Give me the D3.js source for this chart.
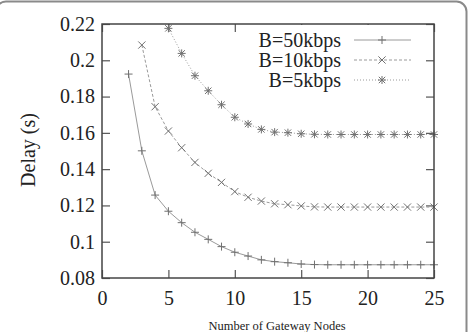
<!DOCTYPE html>
<html>
<head>
<meta charset="utf-8">
<script src="https://cdn.jsdelivr.net/npm/d3@7"></script>
<style>
html,body{margin:0;padding:0;background:#fff;}
svg{display:block;}
text{font-family:"Liberation Serif","Times New Roman",serif;fill:#222;}
</style>
</head>
<body>
<svg id="chart" width="474" height="332"></svg>
<script>
// ---- data ----
const xTicks = [0, 5, 10, 15, 20, 25];
const yTicks = [0.08, 0.1, 0.12, 0.14, 0.16, 0.18, 0.2, 0.22];
const yTickLabels = ["0.08", "0.1", "0.12", "0.14", "0.16", "0.18", "0.2", "0.22"];
const seriesNames = ["B=50kbps", "B=10kbps", "B=5kbps"];
const nodes50 = [2,3,4,5,6,7,8,9,10,11,12,13,14,15,16,17,18,19,20,21,22,23,24,25];
const delay50 = [0.1924,0.1501,0.1257,0.1168,0.1105,0.1052,0.1013,0.0973,0.0942,0.0921,0.0900,0.0890,0.0884,0.0877,0.0874,0.0873,0.0873,0.0873,0.0873,0.0873,0.0873,0.0873,0.0873,0.0873];
const nodes10 = [3,4,5,6,7,8,9,10,11,12,13,14,15,16,17,18,19,20,21,22,23,24,25];
const delay10 = [0.2084,0.1744,0.1610,0.1518,0.1437,0.1377,0.1327,0.1276,0.1245,0.1224,0.1209,0.1204,0.1197,0.1192,0.1191,0.1191,0.1191,0.1191,0.1191,0.1191,0.1191,0.1191,0.1191];
const nodes5 = [5,6,7,8,9,10,11,12,13,14,15,16,17,18,19,20,21,22,23,24,25];
const delay5 = [0.2176,0.2038,0.1915,0.1832,0.1755,0.1686,0.1649,0.1619,0.1604,0.1601,0.1595,0.1592,0.1591,0.1591,0.1591,0.1591,0.1591,0.1591,0.1591,0.1591,0.1591];
const xLabel = "Number of Gateway Nodes";
const yLabel = "Delay (s)";

const series = [
  {name: seriesNames[0], xs: nodes50, ys: delay50, dash: null, marker: "plus"},
  {name: seriesNames[1], xs: nodes10, ys: delay10, dash: "3,2", marker: "cross"},
  {name: seriesNames[2], xs: nodes5, ys: delay5, dash: "1,2", marker: "star"}
];

const svg = d3.select("#chart");

// outer rounded frame
svg.append("rect").attr("x", -4).attr("y", 1.5).attr("width", 470.5).attr("height", 360)
  .attr("rx", 10).attr("fill", "none").attr("stroke", "#8a8a8a").attr("stroke-width", 2);

const L = 102, R = 434, T = 24, B = 278;
const x = d3.scaleLinear().domain([0, 25]).range([L, R]);
const y = d3.scaleLinear().domain([0.08, 0.22]).range([B, T]);

const fmtY = v => yTickLabels[yTicks.indexOf(v)];

function styleAxis(g) {
  g.attr("font-family", null).attr("font-size", null);
  g.select(".domain").remove();
  g.selectAll(".tick line").attr("stroke", "#555").attr("stroke-width", 1.2);
  g.selectAll(".tick text").style("font-family", '"Liberation Serif","Times New Roman",serif').style("font-size", "20px").attr("fill", "#222");
}

svg.append("g").attr("transform", `translate(0,${B})`)
  .call(d3.axisBottom(x).tickValues(xTicks).tickSize(-8).tickSizeOuter(0).tickPadding(13))
  .call(styleAxis);
svg.append("g").attr("transform", `translate(${L},0)`)
  .call(d3.axisLeft(y).tickValues(yTicks).tickFormat(fmtY).tickSize(-8).tickSizeOuter(0).tickPadding(7))
  .call(styleAxis);
svg.append("g").attr("transform", `translate(0,${T})`)
  .call(d3.axisTop(x).tickValues(xTicks).tickFormat("").tickSize(-8).tickSizeOuter(0))
  .call(styleAxis);
svg.append("g").attr("transform", `translate(${R},0)`)
  .call(d3.axisRight(y).tickValues(yTicks).tickFormat("").tickSize(-8).tickSizeOuter(0))
  .call(styleAxis);

// labels
svg.append("text").attr("x", 277).attr("y", 329.5).attr("text-anchor", "middle")
  .style("font-size", "12.5px").text(xLabel);
svg.append("text").attr("transform", "translate(35,150) rotate(-90)").attr("text-anchor", "middle")
  .style("font-size", "20px").text(yLabel);

// legend background (opaque key)
svg.append("rect").attr("x", 255).attr("y", 25).attr("width", 165).attr("height", 65).attr("fill", "#fff");

const markerPath = {
  plus: "M-4,0H4M0,-4V4",
  cross: "M-3.6,-3.6L3.6,3.6M-3.6,3.6L3.6,-3.6",
  star: "M-4,0H4M0,-4V4M-3.2,-3.2L3.2,3.2M-3.2,3.2L3.2,-3.2"
};

const line = d3.line().x(d => x(d[0])).y(d => y(d[1]));
const plotG = svg.append("g");
series.forEach(s => {
  const pts = s.xs.map((v, i) => [v, s.ys[i]]);
  plotG.append("path").datum(pts).attr("d", line).attr("fill", "none")
    .attr("stroke", "#9a9a9a").attr("stroke-width", 1)
    .attr("stroke-dasharray", s.dash);
  plotG.selectAll(null).data(pts).enter().append("path")
    .attr("transform", d => `translate(${x(d[0])},${y(d[1])})`)
    .attr("d", markerPath[s.marker]).attr("fill", "none")
    .attr("stroke", "#707070").attr("stroke-width", 1);
});

// legend
const leg = svg.append("g");
series.forEach((s, i) => {
  const cy = 40 + i * 20;
  leg.append("text").attr("x", 341).attr("y", cy).attr("dy", "0.35em").attr("text-anchor", "end")
    .style("font-size", "20px").text(s.name);
  leg.append("line").attr("x1", 354).attr("x2", 411).attr("y1", cy).attr("y2", cy)
    .attr("stroke", "#9a9a9a").attr("stroke-width", 1).attr("stroke-dasharray", s.dash);
  leg.append("path").attr("transform", `translate(382,${cy})`).attr("d", markerPath[s.marker])
    .attr("fill", "none").attr("stroke", "#707070").attr("stroke-width", 1);
});

// plot border
svg.append("rect").attr("x", L).attr("y", T).attr("width", R - L).attr("height", B - T)
  .attr("fill", "none").attr("stroke", "#444").attr("stroke-width", 1.5);
</script>
</body>
</html>
